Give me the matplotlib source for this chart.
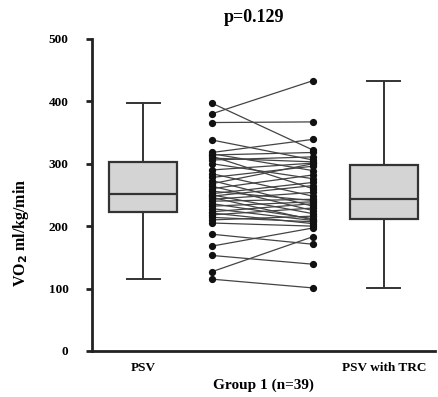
import numpy as np
import matplotlib.pyplot as plt

# paired VO2 values (ml/kg/min), one entry per patient
psv = [397, 380, 366, 338, 318, 316, 314, 312, 309, 306, 300, 290, 284,
       278, 273, 268, 264, 260, 256, 252, 250, 248, 246, 243, 240, 236,
       232, 228, 223, 221, 218, 214, 210, 205, 187, 168, 153, 127, 115]
psv_trc = [322, 433, 367, 306, 339, 289, 318, 260, 303, 311, 276, 301, 248,
           296, 232, 300, 225, 282, 241, 270, 220, 265, 210, 254, 243, 212,
           239, 209, 236, 204, 229, 207, 216, 200, 171, 197, 139, 183, 101]
group_labels = ['PSV', 'PSV with TRC']
p_text = 'p=0.129'

plt.rcParams['font.family'] = ['Liberation Serif', 'DejaVu Serif']
plt.rcParams['font.weight'] = 'bold'

fig = plt.figure(figsize=(4.39, 3.97), dpi=100)
ax = fig.add_axes([0.21, 0.116, 0.78, 0.786])

box_pos = [1.0, 3.41]
pair_pos = [1.69, 2.70]

ax.boxplot([psv, psv_trc], positions=box_pos, widths=0.68, whis=(0, 100),
           patch_artist=True, showfliers=False,
           boxprops=dict(facecolor='#d4d4d4', edgecolor='#333333', linewidth=1.6),
           medianprops=dict(color='#333333', linewidth=1.6),
           whiskerprops=dict(color='#333333', linewidth=1.4),
           capprops=dict(color='#333333', linewidth=1.4),
           capwidths=0.33)

for a, b in zip(psv, psv_trc):
    ax.plot(pair_pos, [a, b], color='#444444', lw=0.9, zorder=2)
ax.plot([pair_pos[0]] * len(psv), psv, 'o', color='#111111', ms=4.2, zorder=3)
ax.plot([pair_pos[1]] * len(psv_trc), psv_trc, 'o', color='#111111', ms=4.2, zorder=3)

ax.set_xlim(0.49, 3.92)
ax.set_ylim(0, 500)
ax.set_yticks([0, 100, 200, 300, 400, 500])
ax.set_xticks(box_pos)
ax.set_xticklabels(group_labels)
for s in ['top', 'right']:
    ax.spines[s].set_visible(False)
for s in ['left', 'bottom']:
    ax.spines[s].set_linewidth(2)
    ax.spines[s].set_color('#222222')
ax.tick_params(axis='y', length=4, width=2, labelsize=9.5, pad=13, color='#222222')
ax.tick_params(axis='x', length=0, labelsize=9.5, pad=8)

ax.set_xlabel('Group 1 (n=39)', fontsize=11, fontweight='bold', labelpad=3)
ax.set_ylabel(r'VO$_\mathbf{2}$ ml/kg/min', fontsize=11.5, fontweight='bold')
ax.yaxis.set_label_coords(-0.178, 0.38)
fig.text(254 / 439, 1 - 18 / 397, p_text, ha='center', va='center',
         fontsize=13, fontweight='bold')

fig.savefig('out.png', dpi=100)
